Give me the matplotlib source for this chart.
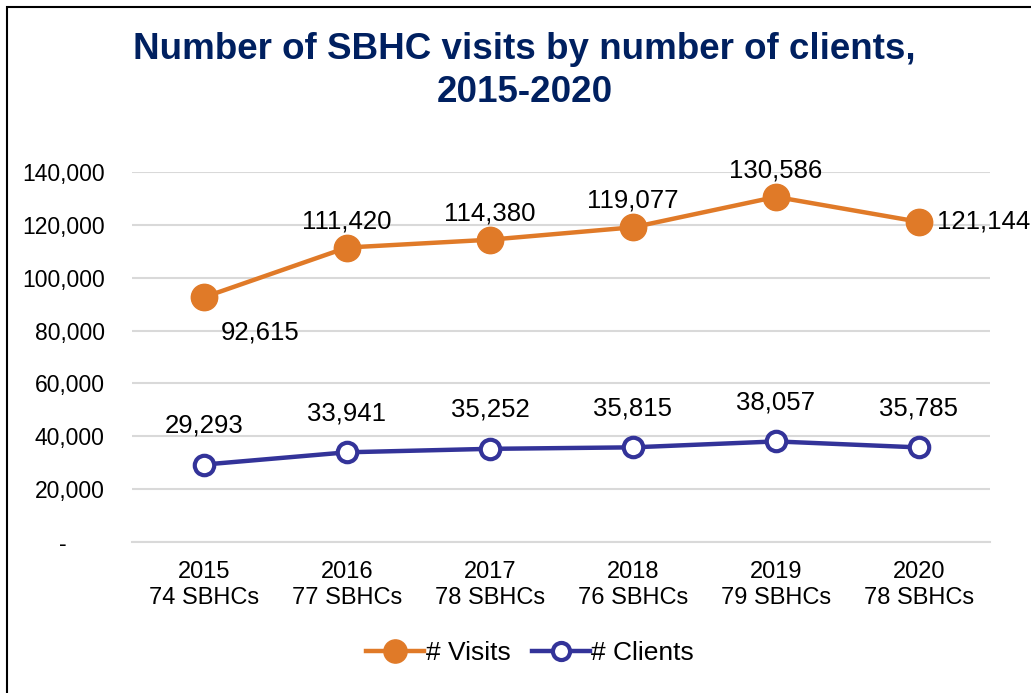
# Number of SBHC visits by number of clients, 2015-2020
import matplotlib
matplotlib.use("Agg")
import matplotlib.pyplot as plt
from matplotlib.patches import Rectangle
from matplotlib.ticker import FuncFormatter

plt.rcParams['font.family'] = ['Liberation Sans', 'DejaVu Sans']

# Data
years = ['2015', '2016', '2017', '2018', '2019', '2020']
sites = ['74 SBHCs', '77 SBHCs', '78 SBHCs', '76 SBHCs', '79 SBHCs', '78 SBHCs']
visits = [92615, 111420, 114380, 119077, 130586, 121144]
clients = [29293, 33941, 35252, 35815, 38057, 35785]

orange = '#E07A28'
navy = '#333399'
title_color = '#002060'
grid_color = '#D9D9D9'

fig = plt.figure(figsize=(10.31, 6.93), dpi=100)
ax = fig.add_axes([0.1285, 0.2179, 0.8322, 0.5339])

x = list(range(len(years)))
ax.plot(x, visits, color=orange, lw=3.2, marker='o', ms=19,
        mfc=orange, mec=orange, label='# Visits', zorder=3)
ax.plot(x, clients, color=navy, lw=3.2, marker='o', ms=14,
        mfc='white', mec=navy, mew=3, label='# Clients', zorder=3)

# data labels
for i, v in enumerate(visits):
    txt = f'{v:,}'
    if i == 0:
        ax.annotate(txt, (i, v), xytext=(12, -17), textcoords='offset points',
                    ha='left', va='top', fontsize=18.5)
    elif i == len(visits) - 1:
        ax.annotate(txt, (i, v), xytext=(13, 0), textcoords='offset points',
                    ha='left', va='center', fontsize=18.5, annotation_clip=False)
    else:
        ax.annotate(txt, (i, v), xytext=(0, 14), textcoords='offset points',
                    ha='center', va='baseline', fontsize=18.5)
for i, v in enumerate(clients):
    ax.annotate(f'{v:,}', (i, v), xytext=(0, 23), textcoords='offset points',
                ha='center', va='baseline', fontsize=18.5)

ax.set_xlim(-0.5, len(years) - 0.5)
ax.set_ylim(0, 140000)
ax.set_yticks(range(0, 140001, 20000))
ax.yaxis.set_major_formatter(FuncFormatter(lambda v, p: '-      ' if v == 0 else f'{int(v):,}'))
ax.set_xticks(x)
ax.set_xticklabels([f'{y}\n{s}' for y, s in zip(years, sites)], linespacing=1.2)
ax.tick_params(axis='both', length=0, labelsize=16.5)
ax.tick_params(axis='x', labelsize=17, pad=14)
ax.tick_params(axis='y', pad=20)
ax.grid(axis='y', color=grid_color, lw=1.5)
ax.set_axisbelow(True)
for s in ['top', 'right', 'left']:
    ax.spines[s].set_visible(False)
ax.spines['bottom'].set_color(grid_color)
ax.spines['bottom'].set_linewidth(1.5)

fig.text(0.509, 1 - 71 / 693, 'Number of SBHC visits by number of clients,\n2015-2020',
         ha='center', va='center', fontsize=26.5, fontweight='bold',
         color=title_color, linespacing=1.3)

fig.legend(loc='center', bbox_to_anchor=(530 / 1031, 1 - 653 / 693), ncol=2,
           frameon=False, fontsize=19, handlelength=2.2, handletextpad=0.05,
           columnspacing=0.8, markerscale=0.88)

# outer frame, cut off at right and bottom like the reference
fig.patches.append(Rectangle((7 / 1031, -0.1), 1.2, (693 - 7) / 693 + 0.1,
                             transform=fig.transFigure, fill=False,
                             edgecolor='black', lw=1.5, clip_on=False))

fig.savefig('out.png', dpi=100)
